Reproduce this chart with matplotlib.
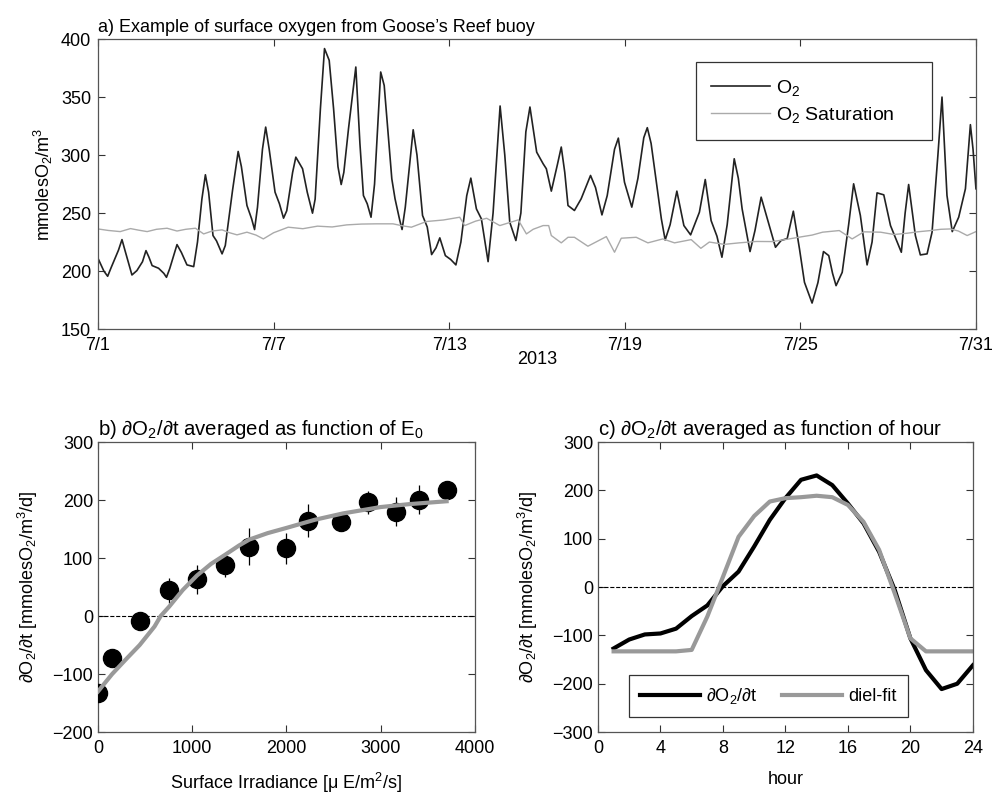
import numpy as np
import matplotlib
matplotlib.use("Agg")
import matplotlib.pyplot as plt

plt.rcParams['font.family'] = ['Liberation Sans', 'DejaVu Sans']
plt.rcParams['mathtext.fontset'] = 'custom'
plt.rcParams['mathtext.rm'] = 'Liberation Sans'
plt.rcParams['mathtext.it'] = 'Liberation Sans:italic'
plt.rcParams['font.size'] = 13

# ---- a) surface oxygen, days since 7/1 2013
o2_day = [0.02, 0.20, 0.33, 0.45, 0.70, 0.82, 0.92, 1.16, 1.33, 1.52, 1.64, 1.74, 1.85, 2.07,
          2.25, 2.34, 2.45, 2.70, 2.85, 3.04, 3.27, 3.40, 3.55, 3.67, 3.78, 3.93, 4.05, 4.24,
          4.35, 4.60, 4.79, 4.90, 5.09, 5.25, 5.35, 5.45, 5.62, 5.73, 5.85, 6.05, 6.20, 6.34,
          6.45, 6.65, 6.76, 6.99, 7.15, 7.33, 7.42, 7.60, 7.74, 7.90, 8.05, 8.20, 8.31, 8.40,
          8.56, 8.81, 8.95, 9.07, 9.20, 9.33, 9.45, 9.66, 9.78, 10.04, 10.15, 10.30, 10.39,
          10.50, 10.77, 10.90, 11.09, 11.25, 11.40, 11.55, 11.68, 11.87, 12.05, 12.23, 12.40,
          12.60, 12.74, 12.93, 13.10, 13.33, 13.50, 13.74, 13.90, 14.07, 14.28, 14.45, 14.62,
          14.76, 14.99, 15.21, 15.32, 15.49, 15.70, 15.83, 15.95, 16.06, 16.28, 16.51, 16.83,
          17.00, 17.22, 17.40, 17.65, 17.78, 17.99, 18.24, 18.45, 18.65, 18.77, 18.90, 19.08,
          19.25, 19.38, 19.55, 19.78, 20.02, 20.25, 20.55, 20.75, 20.95, 21.15, 21.32, 21.50,
          21.74, 21.88, 22.01, 22.28, 22.45, 22.66, 22.94, 23.15, 23.34, 23.55, 23.76, 23.97,
          24.14, 24.40, 24.60, 24.79, 24.97, 25.10, 25.22, 25.43, 25.65, 25.82, 26.05, 26.28,
          26.45, 26.62, 26.85, 27.08, 27.45, 27.58, 27.70, 27.93, 28.10, 28.33, 28.50, 28.70,
          28.84, 29.01, 29.19, 29.41, 29.64, 29.81, 29.90, 30.0]
o2_val = [209.9, 200.0, 195.5, 203.0, 218.0, 227.1, 218.0, 196.6, 200.4, 208.0, 217.6, 212.0, 204.7, 202.4,
          198.0, 194.6, 202.0, 222.8, 216.0, 205.3, 203.8, 225.0, 262.0, 283.0, 268.0, 230.6, 226.0, 214.8,
          222.0, 270.0, 303.1, 290.0, 256.5, 245.0, 235.8, 255.0, 305.0, 324.1, 305.0, 268.0, 258.0, 245.6,
          252.0, 285.0, 298.2, 288.2, 268.0, 249.9, 262.0, 340.0, 391.8, 381.7, 340.0, 290.0, 274.6, 285.0,
          322.7, 375.9, 310.0, 265.1, 258.0, 246.4, 275.0, 371.6, 360.0, 279.5, 262.3, 245.0, 235.8,
          255.0, 321.8, 300.0, 247.9, 238.0, 214.2, 220.0, 228.6, 213.3, 210.0, 205.3, 225.0,
          265.0, 280.1, 253.6, 245.0, 208.1, 250.0, 342.3, 300.0, 242.1, 226.3, 250.0, 320.0,
          341.4, 302.5, 292.5, 288.2, 268.9, 292.0, 306.9, 285.0, 256.5, 252.2, 262.3, 282.4,
          272.0, 248.4, 265.0, 305.0, 314.6, 276.6, 255.1, 280.0, 315.0, 323.6, 310.0, 276.6,
          245.0, 226.8, 240.0, 268.9, 239.2, 231.2, 250.7, 278.9, 243.5, 230.0, 211.9, 240.0,
          296.8, 280.0, 253.6, 216.8, 235.0, 263.7, 239.2, 220.5, 226.3, 228.0, 251.6, 219.1,
          190.3, 172.4, 190.0, 216.8, 213.3, 198.0, 187.4, 198.9, 240.0, 275.2, 247.9, 205.3,
          225.0, 267.4, 265.7, 239.2, 216.2, 250.0, 274.6, 230.6, 213.9, 214.8, 233.5, 300.0,
          350.0, 265.1, 234.0, 246.4, 270.9, 326.2, 305.0, 270.9]

sat_day = [0.0, 0.35, 0.76, 1.11, 1.40, 1.68, 2.00, 2.36, 2.70, 3.00, 3.33, 3.61, 3.90, 4.24,
           4.50, 4.75, 5.09, 5.40, 5.65, 6.0, 6.5, 7.0, 7.5, 8.0, 8.5, 9.0, 9.5, 10.08, 10.40,
           10.71, 11.22, 11.80, 12.36, 12.53, 12.90, 13.28, 13.73, 14.36, 14.64, 14.87, 15.21,
           15.40, 15.49, 15.83, 16.06, 16.28, 16.74, 17.37, 17.65, 17.88, 18.39, 18.79, 19.30,
           19.70, 20.27, 20.6, 20.89, 21.40, 21.91, 22.50, 23.05, 23.62, 24.08, 24.40, 24.76,
           25.33, 25.77, 26.17, 26.74, 27.20, 27.65, 28.00, 28.45, 28.80, 29.13, 29.4, 29.7, 30.0]
sat_val = [236.3, 235.0, 234.0, 236.6, 235.2, 234.0, 236.0, 236.9, 234.5, 236.0, 236.9, 232.0, 234.5, 235.5,
           233.0, 231.2, 233.5, 231.0, 227.7, 233.0, 237.8, 236.5, 238.7, 238.0, 239.8, 240.5, 240.7, 240.7, 239.0,
           237.8, 242.7, 244.0, 246.4, 239.2, 243.0, 245.5, 239.2, 244.1, 232.0, 236.0, 239.2,
           239.2, 230.6, 224.3, 229.1, 229.1, 221.4, 229.7, 216.2, 228.3, 229.1, 224.3, 227.7,
           224.3, 227.1, 219.6, 225.0, 223.0, 224.3, 225.5, 225.4, 227.7, 229.7, 231.0, 233.5,
           234.9, 227.7, 233.8, 233.5, 231.5, 232.6, 233.8, 234.9, 236.0, 236.3, 234.5, 230.6, 234.0]

date_ticks = [0, 6, 12, 18, 24, 30]
date_labels = ['7/1', '7/7', '7/13', '7/19', '7/25', '7/31']

# ---- b) dO2/dt vs surface irradiance
irr = [0, 149, 442, 754, 1051, 1352, 1607, 1993, 2230, 2577, 2867, 3168, 3409, 3699]
rate = [-132.8, -72.7, -8.7, 44.5, 63.5, 87.8, 119.5, 116.6, 164.5, 162.8, 196.3, 180.1, 200.3, 217.7]
rate_err = [10, 12, 15, 22, 25, 20, 32, 27, 28, 15, 20, 25, 25, 15]
fit_irr = [0, 150, 300, 442, 600, 665, 754, 900, 1051, 1200, 1352, 1500, 1607, 1800, 2000,
           2300, 2600, 3000, 3300, 3700]
fit_rate = [-130, -100, -74, -50, -18, 0, 16, 45, 70, 90, 106, 122, 132, 143, 152,
            166, 177, 188, 193, 198]

# ---- c) dO2/dt vs hour
hour = list(range(1, 25))
rate_hr = [-127, -108.5, -98, -96, -86, -60, -38, 2, 32, 84, 139, 184, 222, 231, 211, 173,
           132, 73, -6, -106, -172, -211, -200, -162]
diel_fit = [-133, -133, -133, -133, -133, -130, -61, 21, 104, 147, 177, 184, 186, 189, 186, 170,
            135, 77, -13, -106, -133, -133, -133, -133]

fig = plt.figure(figsize=(10.05, 7.94), dpi=100)
ax1 = fig.add_axes([0.0975, 0.5856, 0.8736, 0.3652])
ax2 = fig.add_axes([0.0975, 0.078, 0.375, 0.3652])
ax3 = fig.add_axes([0.595, 0.078, 0.373, 0.3652])

for ax in (ax1, ax2, ax3):
    ax.tick_params(direction='in', top=True, right=True, length=5, width=0.8, colors='#333', labelcolor='k')
    for s in ax.spines.values():
        s.set_color('#555')
        s.set_linewidth(0.9)
ax1.tick_params(axis='x', pad=5.5)
ax1.tick_params(axis='y', pad=5)
ax2.tick_params(axis='x', pad=6)
ax3.tick_params(axis='x', pad=6)

ax1.plot(o2_day, o2_val, color='#222', lw=1.2, label='O$_2$')
ax1.plot(sat_day, sat_val, color='#aaa', lw=1.0, label='O$_2$ Saturation')
ax1.set_xlim(0, 30)
ax1.set_ylim(150, 400)
ax1.set_xticks(date_ticks)
ax1.set_xticklabels(date_labels)
ax1.set_yticks([150, 200, 250, 300, 350, 400])
ax1.set_xlabel('2013', labelpad=-2)
ax1.set_ylabel('mmolesO$_2$/m$^3$')
ax1.set_title('a) Example of surface oxygen from Goose\u2019s Reef buoy', loc='left', fontsize=13, pad=5)
leg = ax1.legend(loc='upper left', bbox_to_anchor=(0.681, 0.645, 0.269, 0.275), mode='expand',
                 borderaxespad=0, handlelength=3.0, handletextpad=0.3, fancybox=False,
                 edgecolor='#333', framealpha=1, borderpad=0.8, labelspacing=0.35, fontsize=14)
leg.get_frame().set_linewidth(0.9)

ax2.axhline(0, color='k', ls='--', lw=0.8)
ax2.errorbar(irr, rate, yerr=rate_err, fmt='o', color='k', ms=13, elinewidth=0.9, capsize=0, zorder=3)
ax2.plot(fit_irr, fit_rate, color='#999', lw=3, zorder=4)
ax2.set_xlim(0, 4000)
ax2.set_ylim(-200, 300)
ax2.set_xticks([0, 1000, 2000, 3000, 4000])
ax2.set_xlabel('Surface Irradiance [\u03bc E/m$^2$/s]', labelpad=10)
ax2.set_ylabel('\u2202O$_2$/\u2202t [mmolesO$_2$/m$^3$/d]', labelpad=9)
ax2.set_title('b) \u2202O$_2$/\u2202t averaged as function of E$_0$', loc='left', fontsize=14.7, pad=5)

ax3.axhline(0, color='k', ls='--', lw=0.8)
ax3.plot(hour, rate_hr, color='k', lw=3, label='\u2202O$_2$/\u2202t')
ax3.plot(hour, diel_fit, color='#999', lw=3, label='diel-fit')
ax3.set_xlim(0, 24)
ax3.set_ylim(-300, 300)
ax3.set_xticks(range(0, 25, 4))
ax3.set_yticks(range(-300, 301, 100))
ax3.set_xlabel('hour', labelpad=10)
ax3.set_ylabel('\u2202O$_2$/\u2202t [mmolesO$_2$/m$^3$/d]', labelpad=9)
ax3.set_title('c) \u2202O$_2$/\u2202t averaged as function of hour', loc='left', fontsize=14.7, pad=5)
leg3 = ax3.legend(loc='lower left', bbox_to_anchor=(0.083, 0.052), borderaxespad=0, ncol=2,
                  handlelength=3.3, handletextpad=0.35, fancybox=False, edgecolor='#333',
                  framealpha=1, columnspacing=1.4, borderpad=0.6)
leg3.get_frame().set_linewidth(0.9)

fig.savefig('out.png', dpi=100)
